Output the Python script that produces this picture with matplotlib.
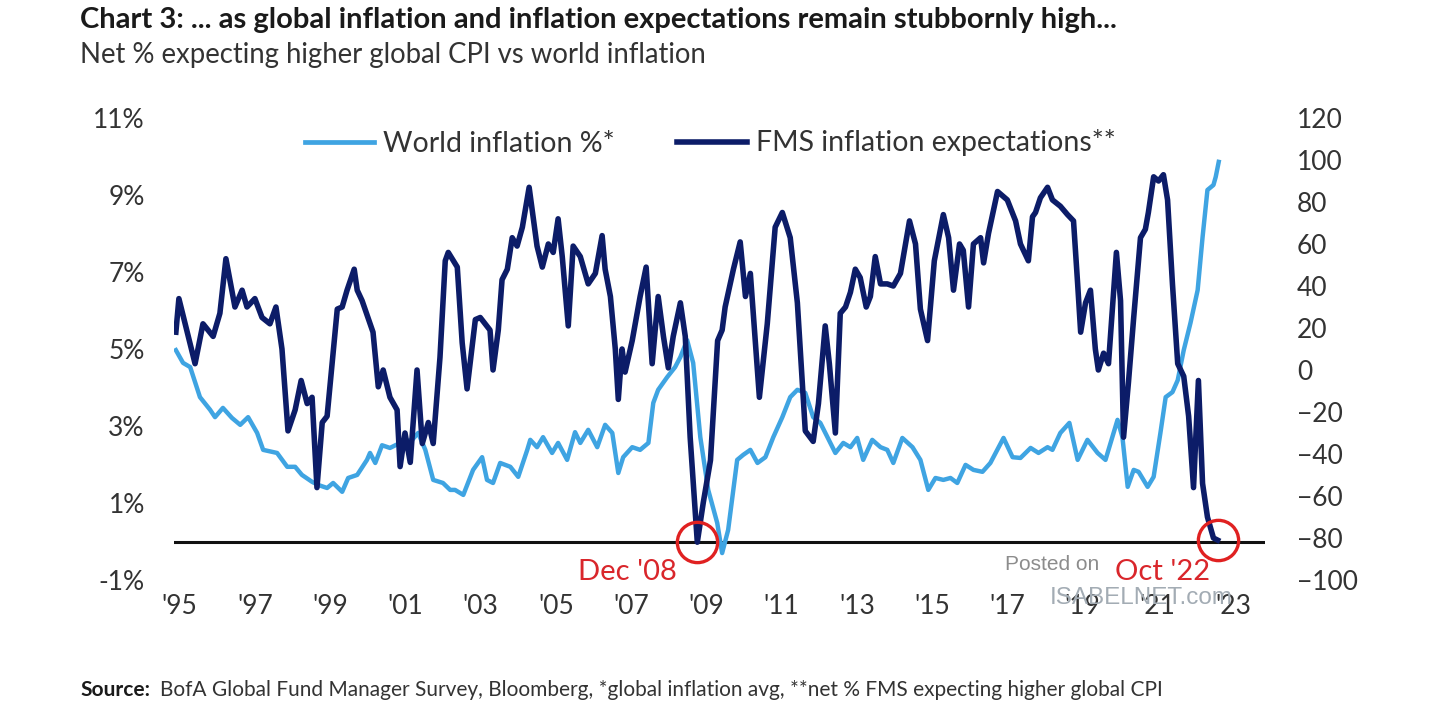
import numpy as np
import matplotlib
matplotlib.use("Agg")
import matplotlib.pyplot as plt
from matplotlib.lines import Line2D

plt.rcParams['font.family'] = ['Lato', 'DejaVu Sans']

# World inflation % (left axis)
infl_years = [1995.05, 1995.24, 1995.43, 1995.69, 1995.96, 1996.09, 1996.30, 1996.54, 1996.76, 1996.97,
              1997.21, 1997.37, 1997.74, 1998.01, 1998.22, 1998.40, 1998.67, 1998.83, 1999.07, 1999.23,
              1999.47, 1999.63, 1999.87, 2000.13, 2000.21, 2000.35, 2000.53, 2000.74, 2001.01, 2001.33,
              2001.49, 2001.68, 2001.89, 2002.15, 2002.34, 2002.47, 2002.69, 2002.95, 2003.19, 2003.32,
              2003.48, 2003.67, 2003.94, 2004.15, 2004.39, 2004.47, 2004.65, 2004.81, 2005.05, 2005.21,
              2005.45, 2005.66, 2005.80, 2006.01, 2006.25, 2006.46, 2006.65, 2006.81, 2006.94, 2007.18,
              2007.39, 2007.61, 2007.74, 2007.87, 2008.11, 2008.32, 2008.46, 2008.64, 2008.80, 2008.99,
              2009.20, 2009.44, 2009.57, 2009.73, 2009.97, 2010.13, 2010.32, 2010.51, 2010.72, 2010.93,
              2011.17, 2011.38, 2011.57, 2011.78, 2011.99, 2012.18, 2012.37, 2012.58, 2012.79, 2012.98,
              2013.16, 2013.32, 2013.56, 2013.78, 2013.96, 2014.12, 2014.36, 2014.63, 2014.84, 2015.05,
              2015.24, 2015.45, 2015.64, 2015.82, 2016.04, 2016.25, 2016.49, 2016.70, 2017.05, 2017.29,
              2017.50, 2017.77, 2017.98, 2018.22, 2018.35, 2018.56, 2018.80, 2019.02, 2019.28, 2019.55,
              2019.76, 2020.08, 2020.21, 2020.35, 2020.51, 2020.64, 2020.88, 2021.04, 2021.22, 2021.36,
              2021.54, 2021.68, 2021.84, 2022.02, 2022.21, 2022.34, 2022.47, 2022.63, 2022.69, 2022.77]
infl_values = [4.97, 4.64, 4.53, 3.75, 3.42, 3.23, 3.47, 3.21, 3.03, 3.23,
               2.82, 2.38, 2.30, 1.94, 1.94, 1.73, 1.55, 1.47, 1.39, 1.52,
               1.29, 1.65, 1.73, 2.12, 2.30, 2.04, 2.50, 2.43, 2.56, 2.64,
               2.82, 2.38, 1.60, 1.52, 1.34, 1.34, 1.21, 1.86, 2.19, 1.60,
               1.52, 2.04, 1.94, 1.68, 2.38, 2.64, 2.45, 2.71, 2.30, 2.56,
               2.12, 2.84, 2.56, 2.90, 2.45, 3.03, 2.82, 1.78, 2.19, 2.45,
               2.38, 2.56, 3.60, 3.94, 4.27, 4.53, 4.79, 5.23, 4.64, 2.71,
               1.34, 0.48, -0.30, 0.30, 2.12, 2.25, 2.38, 2.04, 2.19, 2.71,
               3.23, 3.75, 3.94, 3.86, 3.23, 3.08, 2.71, 2.30, 2.56, 2.45,
               2.69, 2.12, 2.64, 2.45, 2.38, 2.04, 2.69, 2.45, 2.12, 1.34,
               1.65, 1.60, 1.65, 1.52, 1.99, 1.86, 1.81, 2.04, 2.69, 2.19,
               2.17, 2.43, 2.30, 2.45, 2.38, 2.82, 3.08, 2.12, 2.64, 2.30,
               2.12, 3.16, 2.71, 1.42, 1.86, 1.81, 1.42, 1.68, 2.82, 3.75,
               3.88, 4.19, 4.97, 5.68, 6.53, 7.90, 9.13, 9.26, 9.47, 9.86]

# FMS inflation expectations, net % (right axis)
fms_years = [1995.05, 1995.13, 1995.56, 1995.77, 1996.04, 1996.22, 1996.38, 1996.62, 1996.81, 1996.94,
             1997.15, 1997.34, 1997.55, 1997.71, 1997.87, 1998.03, 1998.22, 1998.38, 1998.54, 1998.67,
             1998.80, 1998.94, 1999.07, 1999.34, 1999.47, 1999.60, 1999.79, 1999.87, 2000.00, 2000.29,
             2000.43, 2000.56, 2000.74, 2000.93, 2001.01, 2001.14, 2001.28, 2001.46, 2001.60, 2001.76,
             2001.89, 2002.07, 2002.21, 2002.29, 2002.53, 2002.66, 2002.79, 2003.01, 2003.14, 2003.40,
             2003.48, 2003.62, 2003.72, 2003.86, 2003.99, 2004.12, 2004.26, 2004.44, 2004.65, 2004.79,
             2004.95, 2005.08, 2005.21, 2005.32, 2005.48, 2005.61, 2005.80, 2006.01, 2006.20, 2006.38,
             2006.46, 2006.60, 2006.73, 2006.81, 2006.91, 2006.99, 2007.18, 2007.39, 2007.55, 2007.71,
             2007.87, 2008.01, 2008.14, 2008.27, 2008.46, 2008.59, 2008.72, 2008.91, 2009.07, 2009.26,
             2009.45, 2009.57, 2009.65, 2009.87, 2010.05, 2010.19, 2010.32, 2010.56, 2010.77, 2010.98,
             2011.17, 2011.38, 2011.57, 2011.78, 2011.99, 2012.13, 2012.31, 2012.42, 2012.58, 2012.71,
             2012.85, 2012.98, 2013.11, 2013.24, 2013.40, 2013.51, 2013.64, 2013.78, 2013.96, 2014.12,
             2014.31, 2014.55, 2014.71, 2014.84, 2015.03, 2015.21, 2015.45, 2015.59, 2015.72, 2015.88,
             2015.98, 2016.12, 2016.25, 2016.44, 2016.52, 2016.65, 2016.89, 2017.15, 2017.37, 2017.50,
             2017.71, 2017.82, 2017.90, 2018.03, 2018.22, 2018.35, 2018.56, 2018.75, 2018.91, 2019.02,
             2019.10, 2019.23, 2019.36, 2019.49, 2019.57, 2019.71, 2019.84, 2020.05, 2020.16, 2020.24,
             2020.37, 2020.51, 2020.69, 2020.82, 2020.90, 2021.04, 2021.17, 2021.30, 2021.41, 2021.54,
             2021.68, 2021.84, 2021.97, 2022.10, 2022.23, 2022.34, 2022.47, 2022.63, 2022.74]
fms_values = [18, 34, 3, 22, 16, 27, 53, 30, 38, 30,
              34, 25, 22, 30, 10, -29, -19, -5, -16, -13,
              -56, -25, -22, 29, 30, 38, 48, 38, 33, 18,
              -8, 0, -13, -19, -46, -30, -44, 0, -35, -25,
              -35, 6, 52, 56, 49, 13, -9, 24, 25, 19,
              0, 19, 43, 48, 63, 59, 68, 87, 59, 49,
              60, 56, 72, 54, 21, 59, 54, 41, 46, 64,
              48, 35, 10, -14, 10, -1, 14, 35, 49, 3,
              35, 16, 1, 16, 32, 16, -32, -82, -63, -43,
              14, 19, 30, 48, 61, 35, 46, -13, 22, 68,
              75, 63, 32, -29, -34, -16, 21, 3, -30, 27,
              30, 37, 48, 44, 30, 35, 54, 41, 41, 40,
              46, 71, 60, 29, 14, 52, 74, 63, 38, 60,
              57, 30, 60, 63, 51, 65, 85, 81, 71, 60,
              52, 73, 75, 82, 87, 81, 78, 74, 71, 41,
              18, 32, 38, 10, 0, 8, 3, 56, 33, -32,
              -6, 25, 63, 67, 75, 92, 90, 93, 81, 41,
              3, -3, -22, -56, -5, -54, -70, -80, -81]

tick_years = list(range(1995, 2024, 2))
tick_labels = ["'95", "'97", "'99", "'01", "'03", "'05", "'07", "'09", "'11", "'13",
               "'15", "'17", "'19", "'21", "'23"]

light = '#3fa4e2'
dark = '#0c1c68'
red = '#d9262b'
txt = '#333333'

fig = plt.figure(figsize=(14.4, 7.12), dpi=100)
ax = fig.add_axes([174 / 1440, 1 - 580 / 712, (1265 - 174) / 1440, 462 / 712])
ax2 = ax.twinx()

ax.plot(infl_years, infl_values, color=light, lw=3.2, solid_joinstyle='round')
ax2.plot(fms_years, fms_values, color=dark, lw=4.0, solid_joinstyle='round')

ax.axhline(0, color='#111111', lw=2.2, zorder=0)

ax.set_xlim(1995.0, 2024.0)
ax.set_ylim(-1, 11)
ax2.set_ylim(-100, 120)

ax.set_xticks([y + 0.15 for y in tick_years])
ax.set_xticklabels(tick_labels)
ax.set_yticks(range(-1, 12, 2))
ax.set_yticklabels([f'{v}%' for v in range(-1, 12, 2)])
ax2.set_yticks(range(-100, 121, 20))

for a in (ax, ax2):
    for s in a.spines.values():
        s.set_visible(False)
    a.tick_params(length=0, labelsize=19, labelcolor=txt)
ax.tick_params(axis='y', pad=21)
ax.tick_params(axis='x', pad=10)
ax2.tick_params(axis='y', pad=23)

# red circles on the two lows
i08 = int(np.argmin(fms_values))
ax2.plot(fms_years[i08], fms_values[i08], 'o', ms=29, mfc='none', mec='#e02121', mew=2.4, zorder=5)
ax2.plot(fms_years[-1], fms_values[-1], 'o', ms=29, mfc='none', mec='#e02121', mew=2.4, zorder=5)
ax2.text(fms_years[i08] - 1.85, -96, "Dec '08", color=red, fontsize=21, ha='center', va='center')
ax2.text(fms_years[-1] - 1.45, -96, "Oct '22", color=red, fontsize=21, ha='center', va='center')

# watermark
fig.text(1005 / 1440, 1 - 565 / 712, 'Posted on', color='#8c8c8c', fontsize=15,
         family=['Liberation Sans', 'DejaVu Sans'], ha='left', va='center')
fig.text(1050 / 1440, 1 - 598 / 712, 'ISABELNET.com', color='#a3acb4', fontsize=17.5,
         family=['Liberation Sans', 'DejaVu Sans'], ha='left', va='center')

handles = [Line2D([], [], color=light, lw=3.4), Line2D([], [], color=dark, lw=4.0)]
fig.legend(handles, ['World inflation %*', 'FMS inflation expectations**'],
           loc='center', bbox_to_anchor=(710 / 1440, 1 - 143 / 712), ncol=2, frameon=False,
           fontsize=20.5, handlelength=2.45, handletextpad=0.3, columnspacing=2.2, labelcolor=txt)

fig.text(80 / 1440, 1 - 20 / 712,
         'Chart 3: ... as global inflation and inflation expectations remain stubbornly high...',
         fontsize=21, fontweight='bold', color='#1a1a1a', ha='left', va='center')
fig.text(80 / 1440, 1 - 55 / 712, 'Net % expecting higher global CPI vs world inflation',
         fontsize=19.8, color=txt, ha='left', va='center')
fig.text(80 / 1440, 1 - 690 / 712, 'Source:', fontsize=15, fontweight='bold', color='#1a1a1a',
         ha='left', va='center')
fig.text(160 / 1440, 1 - 690 / 712,
         'BofA Global Fund Manager Survey, Bloomberg, *global inflation avg, **net % FMS expecting higher global CPI',
         fontsize=15, color=txt, ha='left', va='center')

fig.savefig('out.png', dpi=100)
